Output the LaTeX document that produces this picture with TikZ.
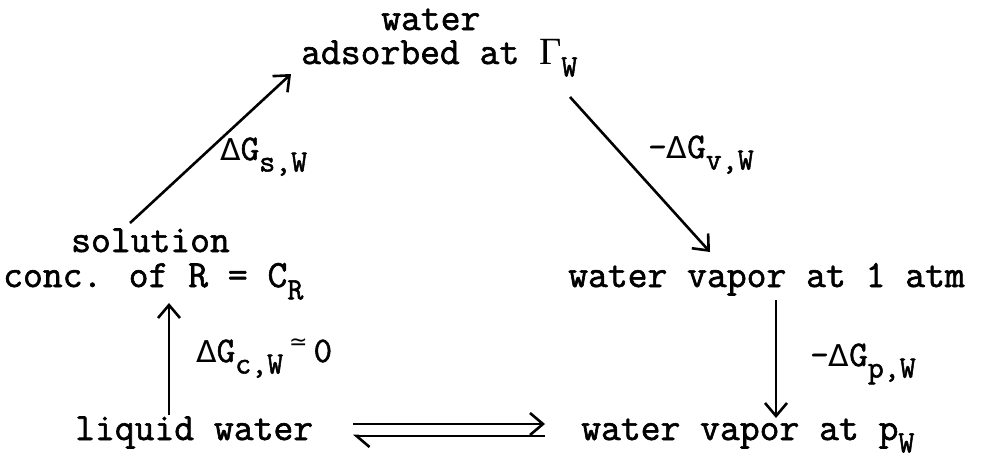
\documentclass[tikz,border=0pt]{standalone}
\usepackage{fontspec}
\setmainfont{Latin Modern Mono}[AutoFakeBold=1.6]
\newfontfamily\grkser{Liberation Serif}
\newfontfamily\grksans{DejaVu Sans}
\usetikzlibrary{arrows.meta}
\newcommand{\lowsub}[1]{\raisebox{-0.32em}{\fontsize{31}{31}\selectfont #1}}
\newcommand{\dG}{{\grksans\mdseries\fontsize{30}{30}\selectfont Δ}G}
\newcommand{\Gam}{{\grkser\mdseries Γ}}
\newcommand{\simq}{\raisebox{0.35em}{\grksans\mdseries\fontsize{22}{22}\selectfont ≃}}
\begin{document}
\begin{tikzpicture}[x=1pt,y=-1pt,
  txt/.style={inner sep=0pt,font=\fontsize{38.5}{40}\selectfont\bfseries},
  lbl/.style={inner sep=0pt,font=\fontsize{36}{38}\selectfont\bfseries},
  arr/.style={line width=2.6pt,-{Straight Barb[length=13pt,width=22pt,line width=2.6pt]}},
  half/.style={line width=2.6pt,-{Straight Barb[left,length=13pt,width=22pt,line width=2.6pt]}}]
\useasboundingbox (0,0) rectangle (1003,458);
% texts
\node[txt,anchor=base west] (water) at (381,30) {water};
\node[txt,anchor=base west] (ads) at (301,64) {adsorbed at \Gam\lowsub{W}};
\node[txt,anchor=base west] (sol) at (71,252) {solution};
\node[txt,anchor=base west] (conc) at (3,287) {conc. of R = C\lowsub{R}};
\node[txt,anchor=base west] (vap1) at (568,287) {water vapor at 1 atm};
\node[txt,anchor=base west] (liq) at (75,440) {liquid water};
\node[txt,anchor=base west] (vapp) at (581,440) {water vapor at p\lowsub{W}};
% labels
\node[lbl,anchor=base west] (gs) at (220,160) {\dG\lowsub{s,W}};
\node[lbl,anchor=base west] (gv) at (648,158) {-\dG\lowsub{v,W}};
\node[lbl,anchor=base west] (gc) at (196,362) {\dG\lowsub{c,W}\,\simq\,0};
\node[lbl,anchor=base west] (gp) at (810,366) {-\dG\lowsub{p,W}};
% arrow ends
\coordinate (a1s) at (130,223);
\coordinate (a1e) at (291,74);
\coordinate (a2s) at (570,97);
\coordinate (a2e) at (710,252);
\coordinate (a3s) at (169,415);
\coordinate (a3e) at (169,303);
\coordinate (a4s) at (776,300);
\coordinate (a4e) at (776,418);
\coordinate (e1s) at (353,424);
\coordinate (e1e) at (545,424);
\coordinate (e2s) at (545,436);
\coordinate (e2e) at (353,436);
\draw[arr] (a1s) -- (a1e);
\draw[arr] (a2s) -- (a2e);
\draw[arr] (a3s) -- (a3e);
\draw[arr] (a4s) -- (a4e);
\draw[arr] (e1s) -- (e1e);
\draw[half] (e2s) -- (e2e);
\end{tikzpicture}
\end{document}
